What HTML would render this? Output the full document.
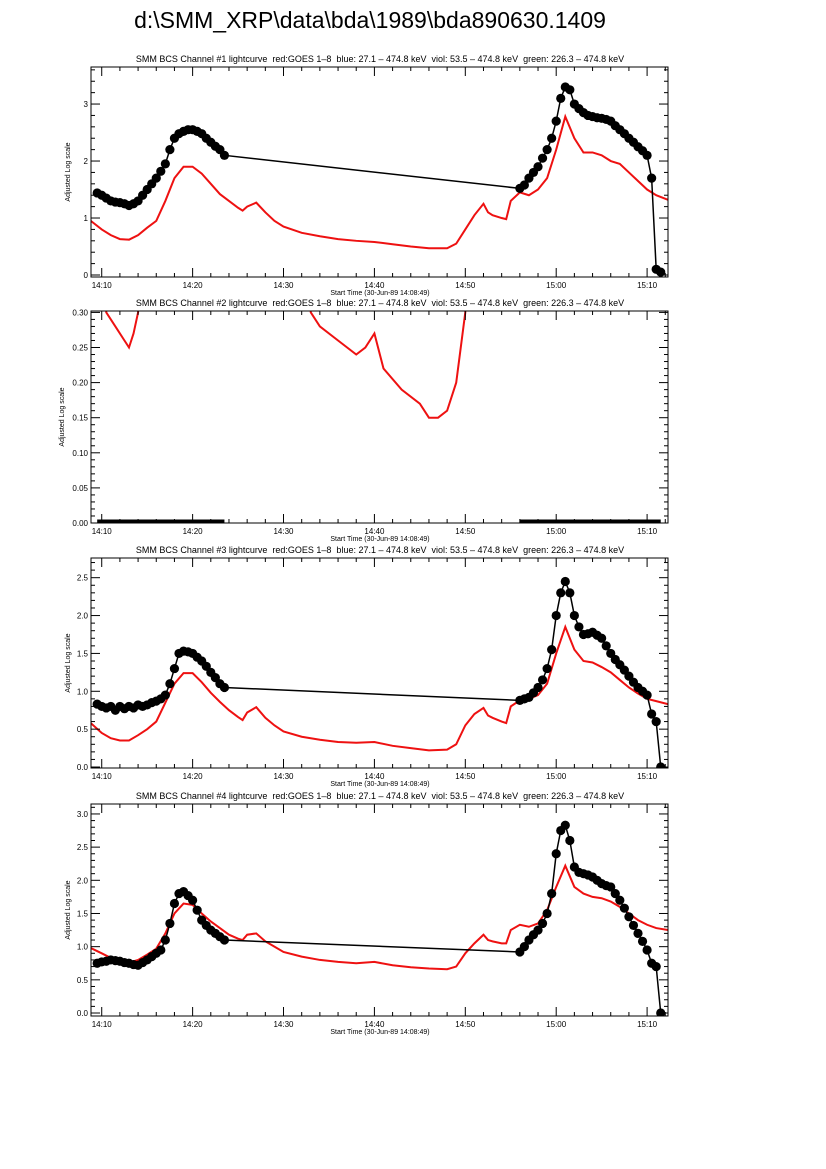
<!DOCTYPE html>
<html><head><meta charset="utf-8"><style>
body{margin:0;background:#fff;}
svg{display:block;font-family:"Liberation Sans",sans-serif;}
.pt{white-space:pre;}
</style></head><body>
<svg id="s" width="826" height="1169">
<text x="370" y="28" font-size="23" text-anchor="middle">d:\SMM_XRP\data\bda\1989\bda890630.1409</text>
</svg>
<script>
const redT=[8.8,10,11,12,13,14,15,16,17,18,19,20,21,22,23,24,25,25.5,26,27,28,29,30,32,34,36,38,40,42,44,46,48,49,50,51,52,52.5,53,54,54.5,55,56,57,58,59,60,61,62,63,64,65,66,67,68,69,70,71,72.3];
const red1=[0.95,0.8,0.7,0.63,0.62,0.7,0.83,0.95,1.3,1.7,1.9,1.9,1.78,1.6,1.42,1.3,1.18,1.13,1.2,1.27,1.1,0.95,0.85,0.74,0.68,0.63,0.6,0.58,0.54,0.5,0.47,0.47,0.55,0.8,1.05,1.25,1.1,1.05,1.0,0.98,1.3,1.45,1.4,1.5,1.7,2.2,2.78,2.4,2.15,2.15,2.1,2.0,1.95,1.8,1.65,1.5,1.4,1.32];
const red3=[0.58,0.45,0.38,0.35,0.35,0.42,0.5,0.6,0.85,1.1,1.24,1.24,1.12,0.98,0.86,0.75,0.66,0.62,0.72,0.79,0.65,0.55,0.47,0.4,0.36,0.33,0.32,0.33,0.28,0.25,0.22,0.23,0.3,0.55,0.7,0.78,0.68,0.65,0.6,0.58,0.8,0.88,0.9,0.95,1.1,1.5,1.85,1.55,1.4,1.38,1.32,1.25,1.15,1.05,0.97,0.9,0.87,0.83];
const red4=[0.98,0.9,0.83,0.78,0.76,0.8,0.88,0.97,1.2,1.5,1.65,1.63,1.5,1.38,1.28,1.18,1.12,1.1,1.18,1.2,1.08,1.0,0.92,0.85,0.8,0.77,0.75,0.77,0.72,0.69,0.67,0.66,0.7,0.9,1.05,1.18,1.1,1.08,1.05,1.05,1.25,1.33,1.3,1.35,1.55,1.9,2.22,1.9,1.8,1.75,1.73,1.68,1.6,1.5,1.4,1.33,1.28,1.25];
const red2T=[10,10.5,11.5,12.5,13,13.5,14,14.5,32,33,34,36,38,39,40,41,43,45,46,47,48,49,50,50.5];
const red2=[0.5,0.3,0.28,0.26,0.25,0.27,0.3,0.5,0.5,0.3,0.28,0.26,0.24,0.25,0.27,0.22,0.19,0.17,0.15,0.15,0.16,0.2,0.3,0.5];
const blkAT=[9.5,10,10.5,11,11.5,12,12.5,13,13.5,14,14.5,15,15.5,16,16.5,17,17.5,18,18.5,19,19.5,20,20.5,21,21.5,22,22.5,23,23.5];
const blk1A=[1.44,1.4,1.35,1.3,1.28,1.27,1.25,1.22,1.25,1.3,1.4,1.5,1.6,1.7,1.82,1.95,2.2,2.4,2.48,2.52,2.55,2.55,2.52,2.48,2.4,2.33,2.26,2.2,2.1];
const blk3A=[0.83,0.8,0.78,0.8,0.75,0.8,0.77,0.8,0.78,0.82,0.8,0.82,0.85,0.87,0.9,0.95,1.1,1.3,1.5,1.53,1.52,1.5,1.45,1.4,1.33,1.25,1.18,1.1,1.05];
const blk4A=[0.75,0.77,0.78,0.8,0.79,0.78,0.76,0.75,0.73,0.72,0.76,0.8,0.85,0.9,0.95,1.1,1.35,1.65,1.8,1.83,1.77,1.7,1.55,1.4,1.32,1.25,1.2,1.15,1.1];
const blkBT=[56,56.5,57,57.5,58,58.5,59,59.5,60,60.5,61,61.5,62,62.5,63,63.5,64,64.5,65,65.5,66,66.5,67,67.5,68,68.5,69,69.5,70,70.5,71,71.5];
const blk1B=[1.52,1.58,1.7,1.8,1.9,2.05,2.2,2.4,2.7,3.1,3.3,3.25,3.0,2.92,2.85,2.8,2.78,2.76,2.75,2.73,2.7,2.62,2.55,2.48,2.4,2.33,2.25,2.18,2.1,1.7,0.1,0.05];
const blk3B=[0.88,0.9,0.92,0.98,1.05,1.15,1.3,1.55,2.0,2.3,2.45,2.3,2.0,1.85,1.75,1.76,1.78,1.74,1.7,1.6,1.5,1.42,1.35,1.28,1.2,1.12,1.05,1.0,0.95,0.7,0.6,0.0];
const blk4B=[0.92,1.0,1.1,1.18,1.25,1.35,1.5,1.8,2.4,2.75,2.83,2.6,2.2,2.12,2.1,2.08,2.05,2.0,1.95,1.92,1.9,1.8,1.7,1.58,1.45,1.32,1.2,1.08,0.95,0.75,0.7,0.0];
const blk2B=blkBT.map(()=>0), blk2A=blkAT.map(()=>0);
const xTickLabels=["14:10","14:20","14:30","14:40","14:50","15:00","15:10"];
const xTickVals=[10,20,30,40,50,60,70];

const NS="http://www.w3.org/2000/svg", S=document.getElementById('s');
function mk(tag,at,par){const e=document.createElementNS(NS,tag);for(const k in at)e.setAttribute(k,at[k]);(par||S).appendChild(e);return e;}
const X0=91,X1=668,T0=8.82,T1=72.3;
const xs=t=>X0+(t-T0)/(T1-T0)*(X1-X0);
const panels=[
 {n:1,top:67,bot:277,ymin:-0.035,ymax:3.65,maj:1,min:0.2,dec:0,red:red1,rt:redT,bA:blk1A,bB:blk1B,dots:true},
 {n:2,top:311,bot:523,ymin:0,ymax:0.302,maj:0.05,min:0.01,dec:2,red:red2,rt:red2T,bA:blk2A,bB:blk2B,dots:false},
 {n:3,top:558,bot:768,ymin:-0.013,ymax:2.76,maj:0.5,min:0.1,dec:1,red:red3,rt:redT,bA:blk3A,bB:blk3B,dots:true},
 {n:4,top:804,bot:1016,ymin:-0.045,ymax:3.15,maj:0.5,min:0.1,dec:1,red:red4,rt:redT,bA:blk4A,bB:blk4B,dots:true}];
panels.forEach(p=>{
 const g=mk('g',{});
 
 
 const ys=v=>p.bot-(v-p.ymin)/(p.ymax-p.ymin)*(p.bot-p.top);
 const t=mk('text',{x:380,y:p.top-5,'font-size':9,'text-anchor':'middle','class':'pt'},g);
 t.textContent='SMM BCS Channel #'+p.n+' lightcurve  red:GOES 1\u20138  blue: 27.1 \u2013 474.8 keV  viol: 53.5 \u2013 474.8 keV  green: 226.3 \u2013 474.8 keV';
 
 
 const cid='c'+p.n;
 const cp=mk('clipPath',{id:cid},g);mk('rect',{x:X0,y:p.top,width:X1-X0,height:p.bot-p.top},cp);
 const pg=mk('g',{'clip-path':'url(#'+cid+')'},g);
 const rl=mk('polyline',{points:p.rt.map((tt,i)=>xs(tt)+','+ys(p.red[i])).join(' '),fill:'none',stroke:'#ee1111','stroke-width':2},pg);
 
 
 const allT=blkAT.concat(blkBT), allV=p.bA.concat(p.bB);
 const bl=mk('polyline',{points:allT.map((tt,i)=>xs(tt)+','+ys(allV[i])).join(' '),fill:'none',stroke:'#000','stroke-width':p.dots?1.5:1},pg);
 
 
 if(!p.dots){
  [[blkAT,p.bA],[blkBT,p.bB]].forEach(([tt,vv])=>{
   const l=mk('line',{x1:xs(tt[0]),x2:xs(tt[tt.length-1]),y1:ys(vv[0])-1,y2:ys(vv[0])-1,stroke:'#000','stroke-width':5},pg);
   
   
  });
 } else {
  allT.forEach((tt,i)=>{
   const c=mk('circle',{cx:xs(tt),cy:ys(allV[i]),r:4.6,fill:'#000'},pg);
   
   
  });
 }
 const fr=mk('rect',{x:X0,y:p.top,width:X1-X0,height:p.bot-p.top,fill:'none',stroke:'#000','stroke-width':1},g);
 
 
 for(let m=10;m<=72;m+=2){
  const x=xs(m), L=(m%10===0)?9:4;
  mk('line',{x1:x,x2:x,y1:p.bot,y2:p.bot-L,stroke:'#000'},g);
  mk('line',{x1:x,x2:x,y1:p.top,y2:p.top+L,stroke:'#000'},g);
 }
 xTickVals.forEach((v,i)=>{
  const tl=mk('text',{x:xs(v),y:p.bot+11,'font-size':8,'text-anchor':'middle'},g);
  tl.textContent=xTickLabels[i];
  
  
 });
 const xl=mk('text',{x:380,y:p.bot+18,'font-size':7,'text-anchor':'middle'},g);
 xl.textContent='Start Time (30-Jun-89 14:08:49)';
 
 
 const nmin=Math.round((p.ymax)/p.min);
 for(let k=0;k<=nmin;k++){
  const v=k*p.min, y=ys(v); if(y<p.top)break;
  const isMaj=Math.abs(v/p.maj-Math.round(v/p.maj))<1e-6, L=isMaj?9:4;
  mk('line',{x1:X0,x2:X0+L,y1:y,y2:y,stroke:'#000'},g);
  mk('line',{x1:X1,x2:X1-L,y1:y,y2:y,stroke:'#000'},g);
  if(isMaj){
   const yl=mk('text',{x:X0-3,y:y+3,'font-size':8,'text-anchor':'end'},g);
   yl.textContent=v.toFixed(p.dec);
   
   
  }
 }
 const cy=(p.top+p.bot)/2;
 const yt=mk('text',{x:0,y:0,'font-size':7,'text-anchor':'middle',transform:'translate('+(p.n==2?64:70)+','+cy+') rotate(-90)'},g);
 yt.textContent='Adjusted Log scale';
 
 
});
</script>
</body></html>
